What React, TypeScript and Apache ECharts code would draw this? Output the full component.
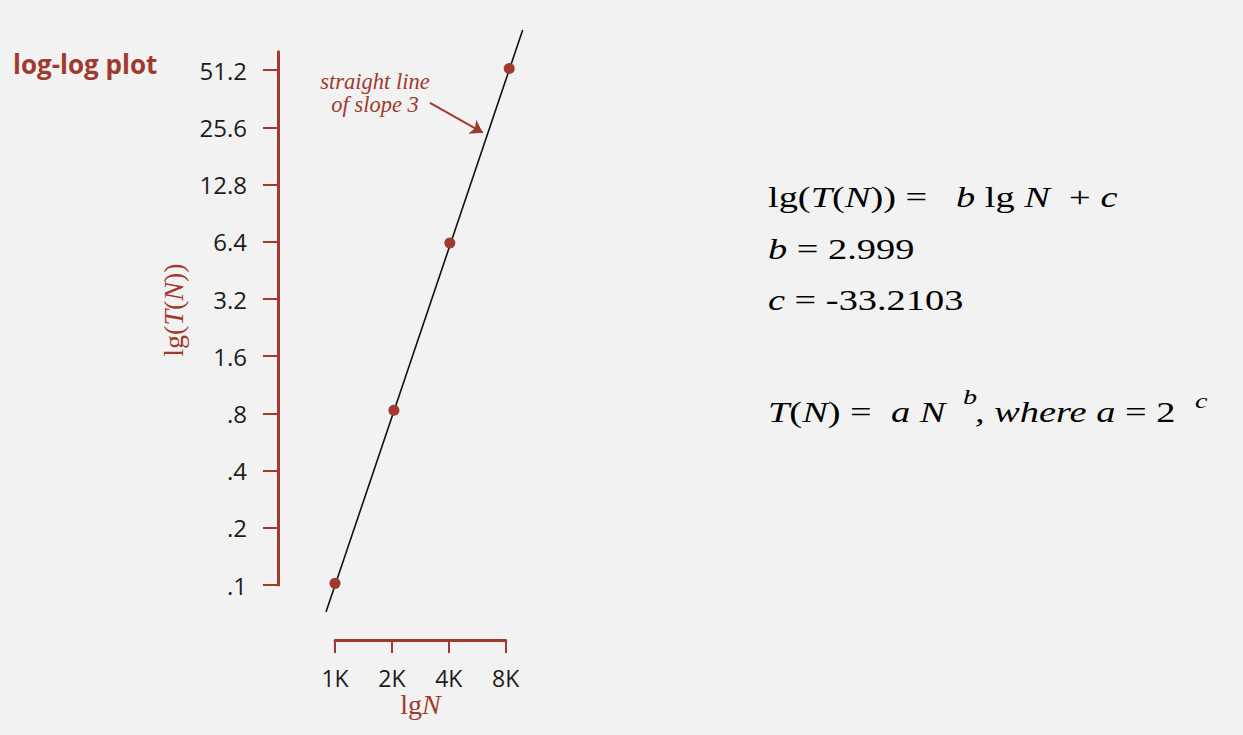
import React, { useEffect, useRef } from "react";
import * as echarts from "echarts";

// ---- data ----
const nValuesK = [1, 2.05, 4.05, 8.35]; // problem size N, in thousands
const tSeconds = [0.102, 0.83, 6.3, 52.3]; // running time T(N), seconds
const fitLineN = [0.896, 9.84]; // ends of the fitted straight line (K)
const fitLineT = [0.072, 83.3]; // ends of the fitted straight line (s)
const yTickValues = [0.1, 0.2, 0.4, 0.8, 1.6, 3.2, 6.4, 12.8, 25.6, 51.2];
const yTickLabels = [".1", ".2", ".4", ".8", "1.6", "3.2", "6.4", "12.8", "25.6", "51.2"];
const xTickValues = [1, 2, 4, 8];
const xTickLabels = ["1K", "2K", "4K", "8K"];

const lg = (v: number) => Math.log2(v);
const RED = "#a13a2e";
const INK = "#1c1c1c";
const SANS = "'Open Sans', 'DejaVu Sans', sans-serif";
const SERIF = "'Liberation Serif', 'DejaVu Serif', serif";

const labelFrom = (vals: number[], labels: string[]) => (v: number) => {
  const i = vals.findIndex((t) => Math.abs(lg(t) - v) < 1e-6);
  return i >= 0 ? labels[i] : "";
};

const FS = 30;
const SX = 1.28;
const rich = {
  r: { fontFamily: SERIF, fontSize: FS, fill: "#000" },
  i: { fontFamily: SERIF, fontSize: FS, fontStyle: "italic", fill: "#000" },
};
const formula = (text: string, x: number, y: number, size = FS) => ({
  type: "text",
  x,
  y,
  scaleX: SX,
  silent: true,
  style: {
    text,
    rich: size === FS ? rich : undefined,
    fontFamily: SERIF,
    fontSize: size,
    fontStyle: size === FS ? "normal" : "italic",
    fill: "#000",
    align: "left",
    verticalAlign: "middle",
  },
});

export default function App() {
  const ref = useRef<HTMLDivElement>(null);
  useEffect(() => {
    document.body.style.margin = "0";
    document.body.style.background = "#f2f2f2";
    const chart = echarts.init(ref.current!, null, { renderer: "svg" });
    const option: any = {
      animation: false,
      backgroundColor: "#f2f2f2",
      grid: [
        { left: 278.1, top: 13, width: 284.5, height: 629.2, containLabel: false, outerBoundsMode: "none" },
        { left: 278, top: 51.8, width: 60, height: 533.2, containLabel: false, outerBoundsMode: "none" },
        { left: 335, top: 600, width: 170.7, height: 40, containLabel: false, outerBoundsMode: "none" },
      ],
      xAxis: [
        { gridIndex: 0, type: "value", min: lg(0.5), max: lg(16), show: false },
        { gridIndex: 1, type: "value", min: 0, max: 1, show: false },
        {
          gridIndex: 2,
          type: "value",
          min: lg(1),
          max: lg(8),
          position: "bottom",
          axisLine: { show: true, onZero: false, lineStyle: { color: RED, width: 3 } },
          axisTick: {
            show: true,
            length: 13,
            lineStyle: { color: RED, width: 2 },
            customValues: xTickValues.map(lg),
          },
          axisLabel: {
            customValues: xTickValues.map(lg),
            formatter: labelFrom(xTickValues, xTickLabels),
            margin: 26,
            color: INK,
            fontSize: 23,
            fontFamily: SANS,
          },
          splitLine: { show: false },
          name: "{r|lg}{i|N}",
          nameLocation: "middle",
          nameGap: 50,
          nameTextStyle: {
            color: RED,
            rich: {
              r: { fontFamily: SERIF, fontSize: 28, color: RED },
              i: { fontFamily: SERIF, fontSize: 28, fontStyle: "italic", color: RED },
            },
          },
        },
      ],
      yAxis: [
        { gridIndex: 0, type: "value", min: lg(0.05), max: lg(102.4), show: false },
        {
          gridIndex: 1,
          type: "value",
          min: lg(0.1),
          max: lg(64),
          position: "left",
          axisLine: { show: true, onZero: false, lineStyle: { color: RED, width: 3 } },
          axisTick: {
            show: true,
            length: 15,
            lineStyle: { color: RED, width: 2 },
            customValues: yTickValues.map(lg),
          },
          axisLabel: {
            customValues: yTickValues.map(lg),
            formatter: labelFrom(yTickValues, yTickLabels),
            margin: 31,
            color: INK,
            fontSize: 24,
            fontFamily: SANS,
          },
          splitLine: { show: false },
        },
        { gridIndex: 2, type: "value", min: 0, max: 1, show: false },
      ],
      series: [
        {
          type: "line",
          xAxisIndex: 0,
          yAxisIndex: 0,
          data: fitLineN.map((n, i) => [lg(n), lg(fitLineT[i])]),
          showSymbol: false,
          symbol: "none",
          lineStyle: { color: "#111", width: 1.6 },
          silent: true,
          z: 2,
        },
        {
          type: "scatter",
          xAxisIndex: 0,
          yAxisIndex: 0,
          data: nValuesK.map((n, i) => [lg(n), lg(tSeconds[i])]),
          symbolSize: 11,
          itemStyle: { color: RED, opacity: 1 },
          z: 3,
          markLine: {
            silent: true,
            symbol: ["none", "arrow"],
            symbolSize: 12,
            label: { show: false },
            lineStyle: { color: RED, width: 2, type: "solid" },
            data: [[{ coord: [lg(3.18), lg(34.5)] }, { coord: [lg(6.05), lg(24.0)] }]],
          },
        },
      ],
      graphic: [
        {
          type: "text",
          x: 13,
          y: 64,
          style: {
            text: "log-log plot",
            fill: RED,
            fontFamily: SANS,
            fontWeight: "bold",
            fontSize: 26,
            align: "left",
            verticalAlign: "middle",
          },
        },
        {
          type: "text",
          x: 375,
          y: 93,
          style: {
            text: "straight line\nof slope 3",
            fill: RED,
            fontFamily: SERIF,
            fontStyle: "italic",
            fontSize: 22.5,
            lineHeight: 23,
            align: "center",
            verticalAlign: "middle",
          },
        },
        {
          type: "text",
          x: 173,
          y: 310,
          rotation: Math.PI / 2,
          style: {
            text: "{r|lg(}{i|T}{r|(}{i|N}{r|))}",
            rich: {
              r: { fontFamily: SERIF, fontSize: 28, fill: RED },
              i: { fontFamily: SERIF, fontSize: 28, fontStyle: "italic", fill: RED },
            },
            fill: RED,
            align: "center",
            verticalAlign: "middle",
          },
        },
        formula("{r|lg(}{i|T}{r|(}{i|N}{r|)) =   }{i|b}{r| lg }{i|N}{r|  + }{i|c}", 768, 197),
        formula("{i|b}{r| = 2.999}", 768, 249),
        formula("{i|c}{r| = -33.2103}", 768, 300),
        formula("{i|T}{r|(}{i|N}{r|) =  }{i|a}{r| }{i|N}", 768, 412),
        formula("b", 963, 396, 22),
        formula("{i|, where a}{r| = 2}", 975, 412),
        formula("c", 1195, 400, 22),
      ],
    };
    chart.setOption(option);
    return () => chart.dispose();
  }, []);
  return (
    <div
      ref={ref}
      style={{ position: "fixed", left: 0, top: 0, width: 1243, height: 735, background: "#f2f2f2" }}
    />
  );
}
